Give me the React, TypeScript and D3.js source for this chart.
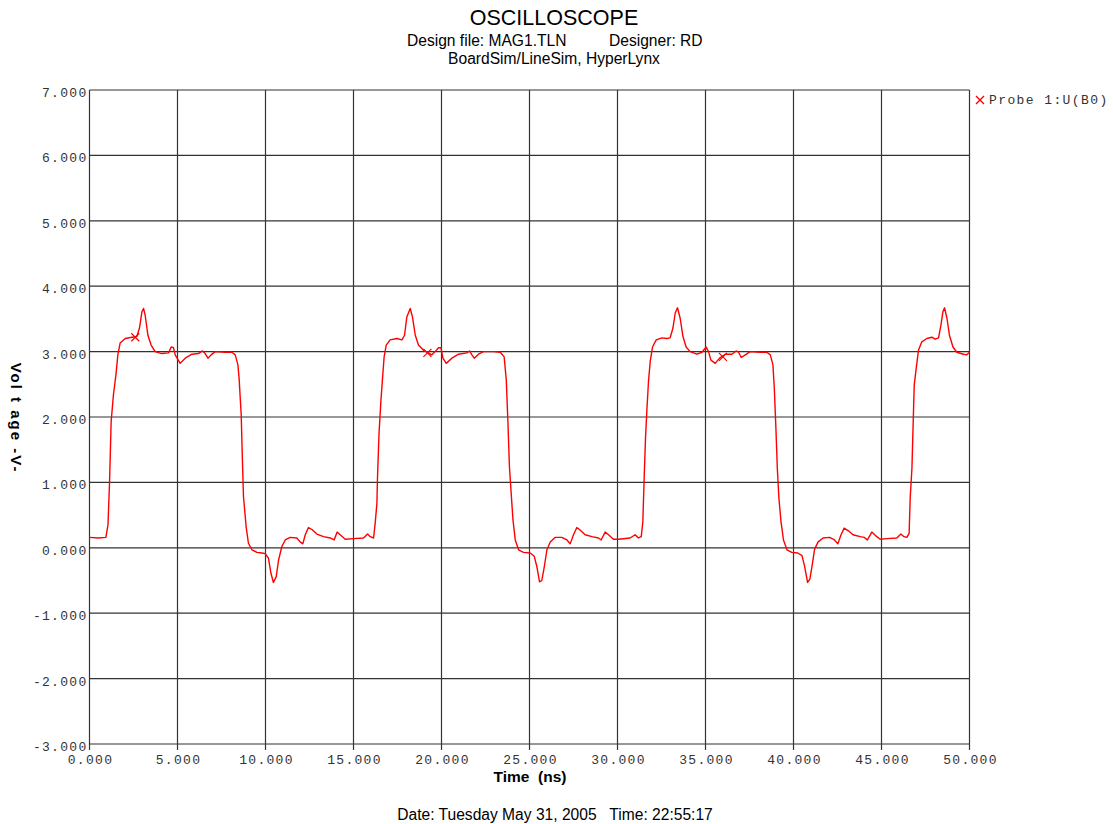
import React from 'react';
import * as d3 from 'd3';

// Probe 1:U(B0) waveform, [time ns, voltage V]
const pulse1High: [number, number][] = [
  [0, 0.16], [0.5, 0.15], [0.93, 0.16], [1.05, 0.35], [1.14, 1.01], [1.23, 1.93], [1.36, 2.34],
  [1.5, 2.64], [1.61, 2.95], [1.74, 3.13], [2.03, 3.2], [2.41, 3.22], [2.69, 3.23], [2.84, 3.36],
  [2.98, 3.61], [3.07, 3.66], [3.16, 3.56], [3.32, 3.25], [3.5, 3.1], [3.73, 3.0], [4.11, 2.97],
  [4.49, 2.98], [4.64, 3.07], [4.77, 3.06], [4.87, 2.95], [5.15, 2.82], [5.44, 2.9], [5.82, 2.96],
  [6.19, 2.97], [6.42, 3.01], [6.57, 2.97], [6.73, 2.9], [6.91, 2.95], [7.14, 3.0], [7.71, 2.99],
  [8.09, 2.99],
];
const pulse1Low: [number, number][] = [
  [8.28, 2.95], [8.43, 2.8], [8.5, 2.59], [8.62, 2.03], [8.69, 1.32], [8.75, 0.78], [8.81, 0.6],
  [8.9, 0.32], [9.03, 0.07], [9.23, -0.03], [9.51, -0.07], [9.8, -0.08], [9.98, -0.09], [10.17, -0.16],
  [10.31, -0.39], [10.45, -0.53], [10.61, -0.44], [10.74, -0.19], [10.93, 0.02], [11.12, 0.12],
  [11.4, 0.16], [11.78, 0.15], [11.97, 0.09], [12.12, 0.06], [12.26, 0.2], [12.44, 0.31], [12.64, 0.28],
  [12.92, 0.21], [13.3, 0.17], [13.68, 0.15], [13.9, 0.12], [14.07, 0.24], [14.24, 0.2], [14.53, 0.13],
  [15.0, 0.14], [15.57, 0.15], [15.8, 0.21], [15.95, 0.17], [16.14, 0.15],
];
const pulse2High: [number, number][] = [
  [16.23, 0.37], [16.33, 0.68], [16.36, 1.04], [16.45, 1.75], [16.56, 2.26], [16.67, 2.67], [16.74, 2.92],
  [16.86, 3.1], [17.08, 3.18], [17.47, 3.2], [17.75, 3.18], [17.9, 3.25], [18.03, 3.53], [18.22, 3.66],
  [18.35, 3.53], [18.51, 3.25], [18.69, 3.1], [18.98, 3.02], [19.26, 2.98], [19.45, 2.95], [19.64, 3.0],
  [19.83, 3.06], [19.97, 3.06], [20.08, 2.9], [20.27, 2.82], [20.59, 2.9], [20.97, 2.96], [21.44, 2.98],
  [21.59, 3.01], [21.73, 2.95], [21.86, 2.9], [22.1, 2.96], [22.39, 3.0], [22.95, 3.0], [23.34, 2.99],
];
const pulse2Low: [number, number][] = [
  [23.56, 2.92], [23.68, 2.57], [23.77, 1.95], [23.86, 1.24], [23.96, 0.83], [24.06, 0.43], [24.19, 0.12],
  [24.38, -0.03], [24.66, -0.07], [25.04, -0.08], [25.27, -0.13], [25.42, -0.29], [25.57, -0.52],
  [25.7, -0.5], [25.84, -0.29], [25.99, -0.03], [26.18, 0.09], [26.46, 0.16], [26.84, 0.16], [27.13, 0.12],
  [27.31, 0.06], [27.5, 0.2], [27.69, 0.31], [27.92, 0.26], [28.16, 0.2], [28.55, 0.17], [28.92, 0.15],
  [29.07, 0.12], [29.3, 0.24], [29.49, 0.2], [29.77, 0.13], [30.06, 0.13], [30.72, 0.15], [31.0, 0.2],
  [31.19, 0.15], [31.35, 0.17],
];
const pulse3High: [number, number][] = [
  [31.44, 0.4], [31.52, 1.11], [31.59, 1.67], [31.67, 2.11], [31.76, 2.54], [31.86, 2.85], [31.99, 3.07],
  [32.2, 3.18], [32.52, 3.21], [32.8, 3.2], [32.99, 3.21], [33.15, 3.36], [33.28, 3.59], [33.41, 3.67],
  [33.56, 3.51], [33.72, 3.23], [33.9, 3.07], [34.13, 3.0], [34.51, 2.96], [34.8, 2.99], [35.04, 3.07],
  [35.17, 3.0], [35.31, 2.87], [35.55, 2.82], [35.8, 2.9], [36.12, 2.96], [36.5, 2.96], [36.74, 3.01],
  [36.88, 2.99], [37.03, 2.91], [37.26, 2.95], [37.54, 3.0], [38.11, 2.99], [38.49, 2.99],
];
const pulse3Low: [number, number][] = [
  [38.68, 2.95], [38.83, 2.8], [38.91, 2.44], [39.0, 1.83], [39.08, 1.22], [39.17, 0.76], [39.29, 0.4],
  [39.43, 0.12], [39.63, -0.03], [39.9, -0.07], [40.25, -0.08], [40.48, -0.12], [40.63, -0.28],
  [40.8, -0.53], [40.93, -0.48], [41.06, -0.27], [41.2, -0.02], [41.4, 0.09], [41.68, 0.15], [42.05, 0.16],
  [42.33, 0.12], [42.52, 0.06], [42.7, 0.2], [42.88, 0.3], [43.12, 0.26], [43.38, 0.2], [43.79, 0.17],
  [44.02, 0.16], [44.2, 0.12], [44.45, 0.24], [44.64, 0.19], [44.93, 0.13], [45.31, 0.14], [45.87, 0.15],
  [46.1, 0.21], [46.28, 0.17], [46.44, 0.16], [46.57, 0.22],
];
const pulse4High: [number, number][] = [
  [46.63, 0.76], [46.73, 1.22], [46.78, 1.72], [46.86, 2.49], [46.97, 2.74], [47.1, 3.02], [47.29, 3.15],
  [47.58, 3.2], [47.86, 3.22], [48.05, 3.19], [48.24, 3.21], [48.38, 3.41], [48.49, 3.61], [48.58, 3.67],
  [48.72, 3.51], [48.86, 3.25], [49.06, 3.07], [49.28, 2.99], [49.66, 2.96], [49.85, 2.95], [50.0, 2.99],
];

// the "x" markers that the scope puts on the trace
const probeMarkers: [number, number][] = [[2.6, 3.22], [19.2, 2.98], [35.99, 2.92]];

const timeTicks = [0, 5, 10, 15, 20, 25, 30, 35, 40, 45, 50];
const voltTicks = [-3, -2, -1, 0, 1, 2, 3, 4, 5, 6, 7];

const W = 1113;
const H = 824;
const monoFont = '"Liberation Mono", "DejaVu Sans Mono", monospace';
const sansFont = '"Liberation Sans", Arial, sans-serif';

const App = () => {
  const x = d3.scaleLinear().domain([0, 50]).range([89.5, 969.5]);
  const y = d3.scaleLinear().domain([-3, 7]).range([744, 90]);

  const trace = [
    ...pulse1High, ...pulse1Low, ...pulse2High, ...pulse2Low,
    ...pulse3High, ...pulse3Low, ...pulse4High,
  ];
  const line = d3.line<[number, number]>()
    .x(d => x(d[0]))
    .y(d => y(d[1]));

  const gridColor = '#333';
  const cross = (cx: number, cy: number, r: number) =>
    `M${cx - r},${cy - r}L${cx + r},${cy + r}M${cx - r},${cy + r}L${cx + r},${cy - r}`;

  return (
    <svg width={W} height={H} style={{ position: 'absolute', left: 0, top: 0, background: '#fff' }}>
      {/* titles */}
      <text x={554} y={25} textAnchor="middle" fontFamily={sansFont} fontSize={21.5} fill="#000">OSCILLOSCOPE</text>
      <text x={407} y={46} fontFamily={sansFont} fontSize={15.6} fill="#000">Design file: MAG1.TLN</text>
      <text x={609} y={46} fontFamily={sansFont} fontSize={15.6} fill="#000">Designer: RD</text>
      <text x={554} y={64} textAnchor="middle" fontFamily={sansFont} fontSize={15.6} fill="#000">BoardSim/LineSim, HyperLynx</text>

      {/* grid */}
      <g>
        {timeTicks.map(t => (
          <line key={'gx' + t} x1={x(t)} x2={x(t)} y1={y(7)} y2={y(-3) + 6}
            stroke={gridColor} strokeWidth={1.2} />
        ))}
        {voltTicks.map(v => (
          <line key={'gy' + v} x1={x(0)} x2={x(50)} y1={y(v)} y2={y(v)}
            stroke={gridColor} strokeWidth={1.2} />
        ))}
      </g>

      {/* tick labels */}
      <g fontFamily={monoFont} fontSize={13} fill="#333" letterSpacing={1.3}>
        {voltTicks.map(v => (
          <text key={'ly' + v} x={x(0) - 2} y={y(v) + 7} textAnchor="end">{d3.format('.3f')(v).replace('−', '-')}</text>
        ))}
        {timeTicks.map(t => (
          <text key={'lx' + t} x={x(t) + 1} y={y(-3) + 20} textAnchor="middle">{d3.format('.3f')(t)}</text>
        ))}
      </g>

      {/* axis titles */}
      <text x={530} y={782} textAnchor="middle" fontFamily={sansFont} fontSize={15.5} fontWeight="bold" fill="#000"
        style={{ whiteSpace: 'pre' }}>{'Time  (ns)'}</text>
      <text transform={`translate(11, 418) rotate(90)`} textAnchor="middle" fontFamily={sansFont} fontSize={15}
        fontWeight="bold" fill="#000" letterSpacing={2} style={{ whiteSpace: 'pre' }}>{'Vol t age -V-'}</text>

      {/* trace */}
      <path d={line(trace) ?? ''} fill="none" stroke="#ff0000" strokeWidth={1.4} strokeLinejoin="round" />
      {probeMarkers.map((m, i) => (
        <path key={'mk' + i} d={cross(x(m[0]), y(m[1]), 4)} stroke="#ff0000" strokeWidth={1.2} fill="none" />
      ))}

      {/* legend */}
      <path d={cross(980, 100, 4)} stroke="#ff0000" strokeWidth={1.4} fill="none" />
      <text x={989} y={104} fontFamily={monoFont} fontSize={13} letterSpacing={1.4} fill="#333">Probe 1:U(B0)</text>

      {/* footer */}
      <text x={555} y={820} textAnchor="middle" fontFamily={sansFont} fontSize={15.6} fill="#000"
        style={{ whiteSpace: 'pre' }}>{'Date: Tuesday May 31, 2005   Time: 22:55:17'}</text>
    </svg>
  );
};

export default App;
